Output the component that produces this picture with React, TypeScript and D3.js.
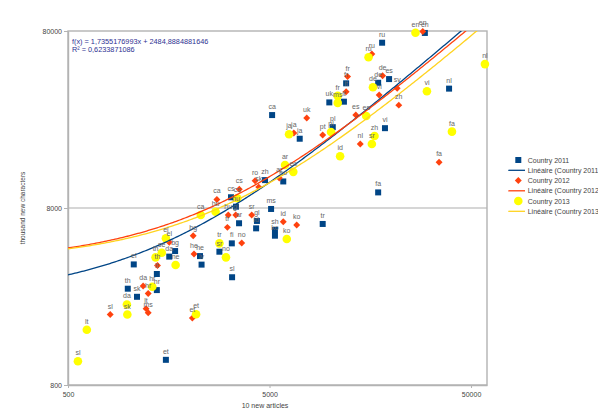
import { useEffect, useRef } from "react"
import * as d3 from "d3"

const seriesNames = ["Country 2011", "Country 2012", "Country 2013"]
const markColors = ["#004586", "#ff420e", "#ffff00"]
const trendColors = ["#004586", "#ff420e", "#ffd320"]

const labels2011 = ["en", "ru", "fr", "de", "es", "uk", "it", "nl", "vi", "pl", "ja", "ca", "fa", "eo", "zh", "ms", "cs", "hu", "ar", "gl", "id", "sh", "ko", "tr", "fi", "sr", "bg", "da", "he", "lv", "el", "lt", "th", "sk", "hr", "sl", "et"]
const articles2011 = [29500, 18100, 12000, 17300, 19600, 9900, 11700, 38900, 18700, 10300, 7060, 5150, 17300, 5850, 4750, 5090, 3220, 3410, 3530, 4330, 4290, 5320, 5320, 9180, 3250, 2820, 1700, 1590, 2260, 2300, 1060, 1380, 990, 1100, 1380, 3260, 1530]
const chars2011 = [78000, 68700, 40500, 40800, 42800, 31600, 31900, 37800, 22600, 22900, 19700, 26800, 9800, 11300, 11500, 7900, 9200, 8140, 6560, 6760, 6140, 6010, 5580, 6500, 5050, 4530, 4570, 4250, 4280, 3830, 3840, 3390, 2800, 2520, 2750, 3250, 1110]

const labels2012 = ["en", "ru", "fr", "de", "sv", "vi", "it", "zh", "es", "uk", "pt", "ja", "nl", "fa", "ar", "ro", "sk", "cs", "ca", "hu", "gl", "sr", "tr", "id", "ko", "no", "bg", "el", "he", "th", "da", "hr", "lt", "ms", "sl", "et"]
const articles2012 = [28800, 16100, 12200, 18200, 21500, 17500, 12000, 21900, 13400, 7650, 9180, 6600, 14100, 34700, 5590, 4240, 4420, 3540, 2740, 3120, 3400, 4080, 3090, 5850, 6820, 3640, 2090, 1590, 2110, 1390, 1180, 1250, 1220, 1250, 810, 2070]
const chars2012 = [79500, 59300, 44200, 44700, 38000, 34800, 36300, 30500, 26800, 25800, 20700, 21200, 18400, 14500, 11800, 11400, 10500, 10200, 8940, 7300, 7300, 7300, 6220, 6690, 6410, 5070, 5580, 5120, 4400, 3790, 2900, 2630, 2160, 2050, 2000, 1910]

const labels2013 = ["en", "nl", "ru", "de", "fr", "ms", "vi", "es", "pl", "ja", "fa", "zh", "sr", "id", "ar", "eo", "cs", "ca", "hu", "ko", "el", "se", "th", "tr", "no", "ne", "hr", "da", "sk", "et", "lt", "sl"]
const articles2013 = [26500, 58600, 15500, 16300, 10900, 10900, 30200, 15100, 10100, 6250, 40200, 16600, 16100, 11200, 5970, 6560, 3460, 2280, 2700, 6090, 1530, 1460, 1360, 2820, 3040, 1710, 1310, 980, 985, 2160, 620, 560]
const chars2013 = [78200, 52000, 56800, 38500, 34400, 31400, 36500, 26500, 21500, 20900, 21600, 20400, 18400, 15700, 14000, 12800, 9080, 7300, 7620, 5350, 5400, 4470, 4210, 5050, 4210, 3810, 2870, 2280, 2000, 2010, 1640, 1090]

// linear trend lines (y = a*x + b), drawn on the log axes
const trendSlopes = [1.7355176993, 1.6164, 1.4248]
const trendIntercepts = [2484.8884881646, 3947, 3988]

const equationLines = ["f(x) = 1,7355176993x + 2484,8884881646", "R² = 0,6233871086"]

const xTicks = [500, 5000, 50000]
const yTicks = [800, 8000, 80000]

const font = "'Liberation Sans', Arial, sans-serif"

function App() {
	const ref = useRef(null)
	const width = 598
	const height = 409
	const plot = { left: 68, right: 487, top: 31, bottom: 385 }

	useEffect(() => {
		const svg = d3.select(ref.current)
		svg.selectAll("*").remove()

		const x = d3.scaleLog().domain([500, 60000]).range([plot.left, plot.right])
		const y = d3.scaleLog().domain([800, 80000]).range([plot.bottom, plot.top])

		const series = [
			{ labels: labels2011, xs: articles2011, ys: chars2011 },
			{ labels: labels2012, xs: articles2012, ys: chars2012 },
			{ labels: labels2013, xs: articles2013, ys: chars2013 },
		].map((s, i) => ({
			name: seriesNames[i],
			points: s.labels.map((l, j) => ({ label: l, a: s.xs[j], c: s.ys[j] })),
		}))

		svg
			.append("defs")
			.append("clipPath")
			.attr("id", "plot-clip")
			.append("rect")
			.attr("x", plot.left)
			.attr("y", plot.top)
			.attr("width", plot.right - plot.left)
			.attr("height", plot.bottom - plot.top)

		// gridline + frame
		svg
			.append("line")
			.attr("x1", plot.left)
			.attr("x2", plot.right)
			.attr("y1", y(8000))
			.attr("y2", y(8000))
			.attr("stroke", "#c8c8c8")
			.attr("stroke-width", 1.6)

		svg
			.append("rect")
			.attr("x", plot.left)
			.attr("y", plot.top)
			.attr("width", plot.right - plot.left)
			.attr("height", plot.bottom - plot.top)
			.attr("fill", "none")
			.attr("stroke", "#b3b3b3")
			.attr("stroke-width", 1.4)

		const yAxis = svg
			.append("g")
			.attr("transform", `translate(${plot.left},0)`)
			.call(d3.axisLeft(y).tickValues(yTicks).tickFormat(d3.format("d")).tickSize(4).tickSizeOuter(0).tickPadding(2))
		const xAxis = svg
			.append("g")
			.attr("transform", `translate(0,${plot.bottom})`)
			.call(d3.axisBottom(x).tickValues(xTicks).tickFormat(d3.format("d")).tickSize(3).tickSizeOuter(0).tickPadding(4))
		;[yAxis, xAxis].forEach((g) => {
			g.select(".domain").attr("stroke", "#b3b3b3").attr("stroke-width", 1.4)
			g.selectAll(".tick line").attr("stroke", "#b3b3b3")
			g.selectAll("text").attr("fill", "#444").attr("font-size", 7).attr("font-family", font)
		})

		svg
			.append("text")
			.attr("transform", `translate(25,208) rotate(-90)`)
			.attr("text-anchor", "middle")
			.attr("font-size", 6.5)
			.attr("font-family", font)
			.attr("fill", "#444")
			.text("thousand new characters")

		svg
			.append("text")
			.attr("x", 265)
			.attr("y", 408)
			.attr("text-anchor", "middle")
			.attr("font-size", 7)
			.attr("font-family", font)
			.attr("fill", "#444")
			.text("10 new articles")

		const markPath = (i) => {
			if (i === 0) return d3.symbol().type(d3.symbolSquare).size(36)()
			if (i === 1) return d3.symbol().type(d3.symbolSquare).size(24)()
			return d3.symbol().type(d3.symbolCircle).size(58)()
		}

		// marks
		series.forEach((s, i) => {
			svg
				.append("g")
				.selectAll("path")
				.data(s.points)
				.enter()
				.append("path")
				.attr("d", markPath(i))
				.attr("transform", (d) => `translate(${x(d.a)},${y(d.c)})${i === 1 ? " rotate(45)" : ""}`)
				.attr("fill", markColors[i])
		})

		// trend lines
		const samples = d3.range(0, 241).map((k) => 500 * Math.pow(120, k / 240))
		series.forEach((s, i) => {
			const line = d3
				.line()
				.x((v) => x(v))
				.y((v) => y(Math.max(trendSlopes[i] * v + trendIntercepts[i], 1)))
			svg
				.append("path")
				.datum(samples)
				.attr("d", line)
				.attr("clip-path", "url(#plot-clip)")
				.attr("fill", "none")
				.attr("stroke", trendColors[i])
				.attr("stroke-width", 1.3)
		})

		// data labels
		series.forEach((s) => {
			svg
				.append("g")
				.selectAll("text")
				.data(s.points)
				.enter()
				.append("text")
				.attr("x", (d) => x(d.a))
				.attr("y", (d) => y(d.c) - 6)
				.attr("text-anchor", "middle")
				.attr("font-size", 7)
				.attr("font-family", font)
				.attr("fill", "#666")
				.text((d) => d.label)
		})

		svg
			.append("g")
			.selectAll("text")
			.data(equationLines)
			.enter()
			.append("text")
			.attr("x", 72)
			.attr("y", (d, i) => 44 + i * 7.6)
			.attr("font-size", 7.3)
			.attr("font-family", font)
			.attr("fill", "#2e3192")
			.text((d) => d)

		// legend
		const legend = svg.append("g").attr("transform", "translate(0,160)")
		seriesNames.forEach((name, i) => {
			const rowMark = i * 20.5
			const rowLine = rowMark + 10.3
			legend
				.append("path")
				.attr("d", markPath(i))
				.attr("transform", `translate(518.3,${rowMark})${i === 1 ? " rotate(45)" : ""}`)
				.attr("fill", markColors[i])
			legend
				.append("text")
				.attr("x", 527.7)
				.attr("y", rowMark + 2.5)
				.attr("font-size", 7)
				.attr("font-family", font)
				.attr("fill", "#444")
				.text(name)
			legend
				.append("line")
				.attr("x1", 508.3)
				.attr("x2", 525)
				.attr("y1", rowLine)
				.attr("y2", rowLine)
				.attr("stroke", trendColors[i])
				.attr("stroke-width", 1.3)
			legend
				.append("text")
				.attr("x", 527.7)
				.attr("y", rowLine + 2.5)
				.attr("font-size", 7)
				.attr("font-family", font)
				.attr("fill", "#444")
				.text(`Linéaire (${name})`)
		})
	}, [])

	return (
		<svg
			ref={ref}
			width={width}
			height={height}
			style={{ position: "absolute", left: 0, top: 0, background: "#fff" }}
		></svg>
	)
}

export default App
